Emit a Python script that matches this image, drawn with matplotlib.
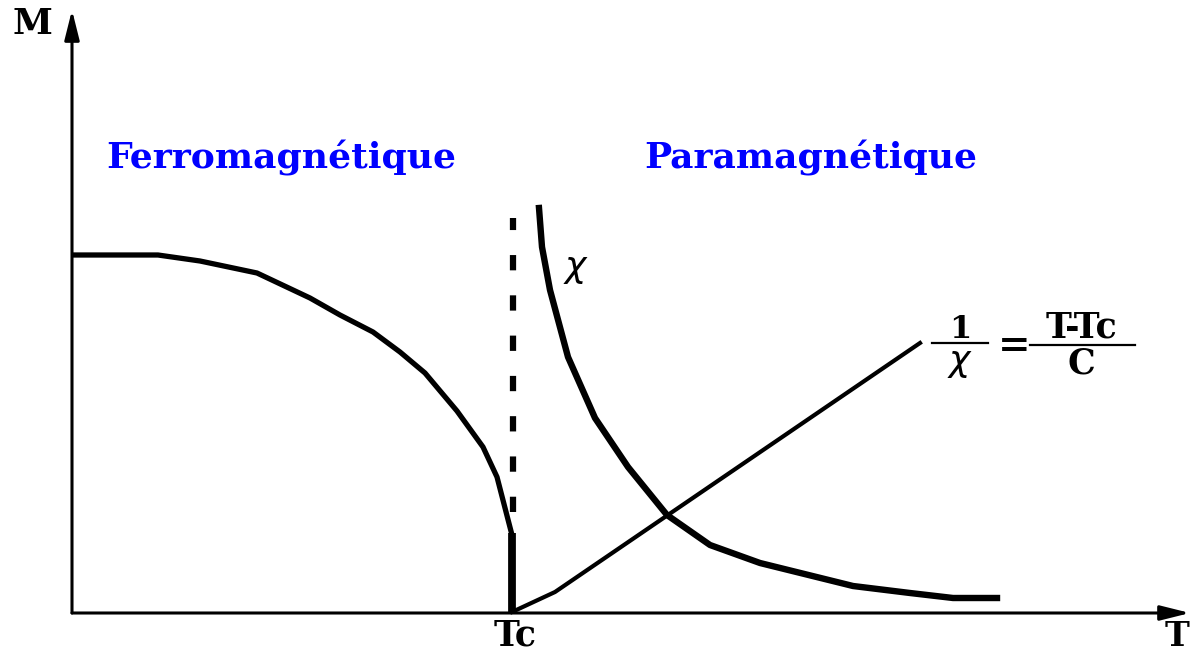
import matplotlib.pyplot as plt
from matplotlib.patches import FancyArrowPatch, ArrowStyle

plt.rcParams['lines.scale_dashes'] = False

# data (T, M in picture units, origin at the axes corner)
ferro_T = [3, 86, 128, 185, 238, 268, 301, 328, 353, 385, 411, 425, 440]
ferro_M = [358, 358, 352, 340, 315, 298, 281, 261, 240, 202, 166, 136, 78]
drop_T = [440, 440]
drop_M = [80, 0]

chi_T = [467, 470, 478, 496, 523, 556, 595, 638, 688, 781, 838, 881, 925]
chi_M = [405, 366, 323, 256, 195, 146, 98, 68, 50, 27, 20, 15, 15]

inv_T = [440, 483, 848]
inv_M = [1, 21, 270]

Tc = 441
dash_M = [101, 395]

fig = plt.figure(figsize=(11.98, 6.52), dpi=100, facecolor='w')
ax = fig.add_axes([0, 0, 1, 1])
ax.set_xlim(-72, 1126)
ax.set_ylim(-39, 613)
ax.axis('off')

serif = 'DejaVu Serif'

# axes with arrows
style = ArrowStyle('-|>', head_length=18, head_width=4.5)
for end in [(1118, 0), (0, 603)]:
    ax.add_patch(FancyArrowPatch((0, 0), end, arrowstyle=style, mutation_scale=1,
                                 shrinkA=0, shrinkB=0, lw=2.2, color='k'))

ax.plot(ferro_T, ferro_M, color='k', lw=3.8, solid_joinstyle='round')
ax.plot(drop_T, drop_M, color='k', lw=5.6, solid_capstyle='butt')
ax.plot([Tc, Tc], dash_M, color='k', lw=4.5, dashes=(11, 18), dash_capstyle='butt')
ax.plot(chi_T, chi_M, color='k', lw=4.6, solid_joinstyle='round')
ax.plot(inv_T, inv_M, color='k', lw=3.0, solid_joinstyle='round')

ax.text(-39, 589, 'M', fontsize=26, fontweight='bold', family=serif, ha='center', va='center')
ax.text(1105, -24, 'T', fontsize=24, fontweight='bold', family=serif, ha='center', va='center')
ax.text(443, -23, 'Tc', fontsize=25, fontweight='bold', family=serif, ha='center', va='center')

ax.text(209, 455, 'Ferromagnétique', fontsize=26, fontweight='bold', family=serif,
        color='#0000ff', ha='center', va='center')
ax.text(739, 455, 'Paramagnétique', fontsize=26, fontweight='bold', family=serif,
        color='#0000ff', ha='center', va='center')

ax.text(504, 344, r'$\chi$', fontsize=26, ha='center', va='center')

# 1/chi = (T-Tc)/C
ax.text(888, 283, '1', fontsize=23, fontweight='bold', family=serif, ha='center', va='center')
ax.plot([860, 916], [270, 270], color='k', lw=1.6)
ax.text(888, 250, r'$\chi$', fontsize=26, ha='center', va='center')
ax.text(942, 267, '=', fontsize=28, fontweight='bold', family=serif, ha='center', va='center')
ax.text(1010, 285, 'T-Tc', fontsize=25, fontweight='bold', family=serif, ha='center', va='center')
ax.plot([958, 1063], [268, 268], color='k', lw=1.6)
ax.text(1009, 249, 'C', fontsize=25, fontweight='bold', family=serif, ha='center', va='center')

fig.savefig('out.png', dpi=100, facecolor='w')
